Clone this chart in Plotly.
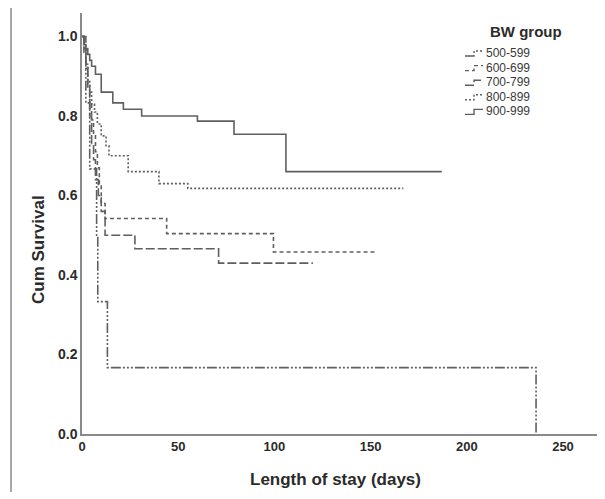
import plotly.graph_objects as go

# ---- data ----
groups = ["500-599", "600-699", "700-799", "800-899", "900-999"]

t_500 = [0, 2, 4, 7.6, 8.2, 13.2, 236]
s_500 = [1.0, 0.833, 0.667, 0.5, 0.333, 0.167, 0.0]

t_600 = [0, 1, 2, 3, 4, 5, 6, 7, 8, 9, 10, 12, 44, 99.5, 152]
s_600 = [1.0, 0.96, 0.92, 0.88, 0.83, 0.79, 0.75, 0.71, 0.67, 0.63, 0.58, 0.542, 0.504, 0.458, 0.458]

t_700 = [0, 1, 2, 3, 4, 5, 6, 7, 8.5, 10, 12, 27.5, 71, 120]
s_700 = [1.0, 0.97, 0.93, 0.87, 0.80, 0.73, 0.69, 0.64, 0.60, 0.56, 0.50, 0.466, 0.43, 0.43]

t_800 = [0, 1, 2, 3, 4, 5, 6.5, 8, 10, 12.5, 14, 24, 40, 55, 167]
s_800 = [1.0, 0.97, 0.93, 0.89, 0.86, 0.83, 0.81, 0.78, 0.75, 0.725, 0.70, 0.66, 0.63, 0.618, 0.618]

t_900 = [0, 1, 2, 3, 4, 5, 7, 10, 16, 21.5, 31, 60, 79, 106, 187]
s_900 = [1.0, 0.98, 0.97, 0.955, 0.94, 0.925, 0.905, 0.86, 0.833, 0.817, 0.80, 0.787, 0.754, 0.66, 0.66]

x_ticks = [0, 50, 100, 150, 200, 250]
y_ticks = [0.0, 0.2, 0.4, 0.6, 0.8, 1.0]
y_tick_text = ["0.0", "0.2", "0.4", "0.6", "0.8", "1.0"]

dashes = ["10px,2px,2px,2px,2px,2px,2px,2px", "4px,3px", "9px,3px", "2px,2px", "solid"]
times = [t_500, t_600, t_700, t_800, t_900]
survs = [s_500, s_600, s_700, s_800, s_900]

LINE_COLOR = "#5f5f5f"
TXT = "#2b2b2b"
FONT = "Liberation Sans, Arial, sans-serif"

# the page body has an 8px margin; lay out in window pixels and shift
OFF = 8
WIN_W, WIN_H = 605, 499
W, H = WIN_W - OFF, WIN_H - OFF
PLOT_L, PLOT_R, PLOT_T, PLOT_B = 82, 605, 13, 434   # window pixels
ML, MR, MT, MB = PLOT_L - OFF, WIN_W - PLOT_R, PLOT_T - OFF, WIN_H - PLOT_B
PW, PH = PLOT_R - PLOT_L, PLOT_B - PLOT_T


def px(xp):
    return (xp - PLOT_L) / PW


def py(yp):
    return (PLOT_B - yp) / PH


fig = go.Figure()
for name, t, s, dash in zip(groups, times, survs, dashes):
    fig.add_trace(go.Scatter(
        x=t, y=s, mode="lines", name=name, showlegend=False,
        line=dict(shape="hv", color=LINE_COLOR, width=1.6, dash=dash),
    ))

shapes = [dict(type="line", xref="paper", yref="paper",
               x0=px(11), x1=px(11), y0=py(8), y1=py(492),
               line=dict(color="#8a8a8a", width=1.5))]
annotations = [
    dict(text="<b>BW group</b>", xref="paper", yref="paper",
         x=px(526), y=py(31), xanchor="center", yanchor="middle",
         showarrow=False, font=dict(size=15, color=TXT, family=FONT)),
    dict(text="<b>Cum Survival</b>", xref="paper", yref="paper",
         x=px(38), y=py(250), xanchor="center", yanchor="middle", textangle=-90,
         showarrow=False, font=dict(size=17, color=TXT, family=FONT)),
    dict(text="<b>Length of stay (days)</b>", xref="paper", yref="paper",
         x=px(335), y=py(480), xanchor="center", yanchor="middle",
         showarrow=False, font=dict(size=17, color=TXT, family=FONT)),
]
for i, (name, dash) in enumerate(zip(groups, dashes)):
    yc = 53 + 14.6 * i
    path = "M {} {} L {} {} L {} {} L {} {}".format(
        px(465), py(yc + 3), px(474), py(yc + 3), px(474), py(yc - 2), px(483), py(yc - 2))
    shapes.append(dict(type="path", xref="paper", yref="paper", path=path,
                       line=dict(color=LINE_COLOR, width=1.4, dash=dash)))
    annotations.append(dict(text=name, xref="paper", yref="paper",
                            x=px(484), y=py(yc), xanchor="left", yanchor="middle",
                            showarrow=False, font=dict(size=12, color="#3a3a3a", family=FONT)))

fig.update_layout(
    width=W, height=H,
    margin=dict(l=ML, r=MR, t=MT, b=MB, autoexpand=False),
    paper_bgcolor="white", plot_bgcolor="white",
    font=dict(family=FONT, color=TXT),
    showlegend=False,
    xaxis=dict(
        range=[0, (PLOT_R - PLOT_L) / 1.924], tickvals=x_ticks,
        showgrid=False, zeroline=False,
        showline=True, linecolor="#8a8a8a", linewidth=1.5, ticks="",
        automargin=False,
        tickfont=dict(size=13, family=FONT, color=TXT, weight="bold"),
    ),
    yaxis=dict(
        range=[0, (PLOT_B - PLOT_T) / 397.5], tickvals=y_ticks, ticktext=y_tick_text,
        showgrid=False, zeroline=False, automargin=False,
        showline=True, linecolor="#8a8a8a", linewidth=1.5, ticks="",
        tickfont=dict(size=14, family=FONT, color=TXT, weight="bold"),
    ),
    shapes=shapes,
    annotations=annotations,
)

fig.write_html("out.html")
